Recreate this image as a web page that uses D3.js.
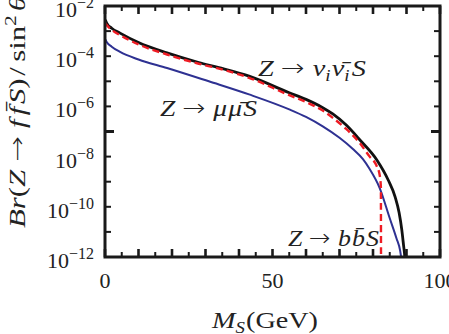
<!DOCTYPE html>
<html>
<head>
<meta charset="utf-8">
<script src="https://cdn.jsdelivr.net/npm/d3@7"></script>
<style>
  html, body { margin: 0; padding: 0; background: #ffffff; }
  svg { display: block; }
</style>
</head>
<body>
<div id="chart"></div>
<script>
// Z -> nu nubar S (black, solid)
const nuMass = [0.1, 0.5, 2, 4.5, 10, 18.5, 28, 34, 43, 55, 60, 65, 68, 72, 76.1, 81.2, 84.5, 86.6, 87.8, 88.6, 89.1, 89.5, 89.8];
const nuBr = [2.8e-3, 2.1e-3, 1.3e-3, 8.3e-4, 3.5e-4, 1.35e-4, 5.6e-5, 3.5e-5, 1.6e-5, 3.5e-6, 1.9e-6, 8.9e-7, 5.0e-7, 1.8e-7, 4.6e-8, 7.2e-9, 1.2e-9, 2.5e-10, 5.8e-11, 1.2e-11, 3.1e-12, 1.0e-12, 2.5e-13];

// Z -> b bbar S (red, dashed)
const bMass = [0.1, 0.5, 2, 4.5, 10, 18.5, 28, 34, 43, 55, 60, 65, 68, 72, 76, 79, 81, 82, 82.35, 82.4];
const bBr = [2.1e-3, 1.74e-3, 1.12e-3, 6.9e-4, 2.95e-4, 1.17e-4, 5.0e-5, 3.2e-5, 1.38e-5, 2.8e-6, 1.5e-6, 6.8e-7, 3.5e-7, 1.26e-7, 3.5e-8, 1.0e-8, 4.5e-9, 1.8e-9, 6.3e-10, 1e-13];

// Z -> mu mubar S (blue, solid)
const muMass = [0.1, 0.5, 2, 4.5, 10, 18.5, 31, 43, 55, 60, 65, 70, 74, 77, 79, 82, 85, 87, 88.1, 88.6];
const muBr = [4.7e-4, 3.7e-4, 2.4e-4, 1.48e-4, 7.4e-5, 3.4e-5, 1.0e-5, 3.0e-6, 7.6e-7, 3.8e-7, 1.6e-7, 5.6e-8, 2.0e-8, 7.9e-9, 3.2e-9, 5.6e-10, 3.5e-11, 5.6e-12, 1.8e-12, 6.3e-13];

// axis ticks
const xMajorTicks = [0, 10, 20, 30, 40, 50, 60, 70, 80, 90, 100];
const xMinorTicks = [5, 15, 25, 35, 45, 55, 65, 75, 85, 95];
const xTickLabels = [0, 50, 100];
const yDecades = [-3, -4, -5, -6, -7, -8, -9, -10, -11];
const yLabelExps = [-2, -4, -6, -8, -10, -12];

class BranchingPlot {
  constructor() {
    this.width = 449;
    this.height = 334;
    this.margin = { top: 6, right: 9, bottom: 77, left: 105 };
    this.font = "'Liberation Serif', 'DejaVu Serif', serif";
    this.arrowFont = "'DejaVu Sans', sans-serif";

    this.svg = d3
      .select("#chart")
      .append("svg")
      .attr("width", this.width)
      .attr("height", this.height);

    this.setupScales();
    this.drawCurves();
    this.drawFrame();
    this.drawTicks();
    this.drawLabels();
  }

  setupScales() {
    const m = this.margin;
    this.x0 = m.left;
    this.x1 = this.width - m.right;
    this.y0 = m.top;
    this.y1 = this.height - m.bottom;

    this.x = d3.scaleLinear().domain([0, 100]).range([this.x0, this.x1]);
    this.y = d3.scaleLog().domain([1e-12, 1e-2]).range([this.y1, this.y0]);
  }

  drawCurves() {
    this.svg
      .append("clipPath")
      .attr("id", "plotClip")
      .append("rect")
      .attr("x", this.x0)
      .attr("y", this.y0)
      .attr("width", this.x1 - this.x0)
      .attr("height", this.y1 - this.y0);

    const line = d3
      .line()
      .x((d) => this.x(d[0]))
      .y((d) => this.y(d[1]))
      .curve(d3.curveMonotoneX);

    const series = [
      { mass: muMass, br: muBr, colour: "#2e3192", width: 2, dash: null },
      { mass: nuMass, br: nuBr, colour: "#111111", width: 2.8, dash: null },
      { mass: bMass, br: bBr, colour: "#ee1c24", width: 2.4, dash: "7,4" },
    ];

    const g = this.svg.append("g").attr("clip-path", "url(#plotClip)");

    series.forEach((s) => {
      const pts = s.mass.map((m, i) => [m, s.br[i]]);
      g.append("path")
        .datum(pts)
        .attr("fill", "none")
        .attr("stroke", s.colour)
        .attr("stroke-width", s.width)
        .attr("stroke-dasharray", s.dash)
        .attr("d", line);
    });
  }

  drawFrame() {
    this.svg
      .append("rect")
      .attr("x", this.x0)
      .attr("y", this.y0)
      .attr("width", this.x1 - this.x0)
      .attr("height", this.y1 - this.y0)
      .attr("fill", "none")
      .attr("stroke", "#1a1a1a")
      .attr("stroke-width", 3);
  }

  drawTicks() {
    const g = this.svg.append("g").attr("stroke", "#1a1a1a");

    // x ticks, inward on bottom and top
    const xTicks = [
      ...xMajorTicks.map((v) => ({ v, len: 8, w: 2.6 })),
      ...xMinorTicks.map((v) => ({ v, len: 5, w: 2 })),
    ];
    xTicks.forEach((t) => {
      const px = this.x(t.v);
      g.append("line")
        .attr("x1", px).attr("x2", px)
        .attr("y1", this.y1).attr("y2", this.y1 - t.len)
        .attr("stroke-width", t.w);
      g.append("line")
        .attr("x1", px).attr("x2", px)
        .attr("y1", this.y0).attr("y2", this.y0 + t.len)
        .attr("stroke-width", t.w);
    });

    // y ticks, one per decade
    yDecades.forEach((e) => {
      const py = this.y(Math.pow(10, e));
      const big = e === -7;
      const len = big ? 9 : 6;
      const w = big ? 3 : 2;
      g.append("line")
        .attr("x1", this.x0).attr("x2", this.x0 + len)
        .attr("y1", py).attr("y2", py)
        .attr("stroke-width", w);
      g.append("line")
        .attr("x1", this.x1).attr("x2", this.x1 - len)
        .attr("y1", py).attr("y2", py)
        .attr("stroke-width", w);
    });
  }

  // builds a math-ish label out of tspans, optionally stretched to a width
  mathText(parent, x, y, size, width, parts) {
    const t = parent
      .append("text")
      .attr("x", x)
      .attr("y", y)
      .attr("font-family", this.font)
      .attr("font-size", size + "px")
      .attr("fill", "#222");
    let shift = 0;
    parts.forEach((p) => {
      const s = t.append("tspan").text(p.text);
      if (p.italic) s.attr("font-style", "italic");
      if (p.arrow) s.attr("font-family", this.arrowFont).attr("font-weight", 200).attr("dx", 6);
      if (p.gap) s.attr("dx", p.gap);
      if (p.sub) {
        s.attr("font-size", Math.round(size * 0.68) + "px").attr("dy", 5 - shift);
        shift = 5;
      } else if (p.sup) {
        s.attr("font-size", Math.round(size * 0.68) + "px").attr("dy", -9 - shift);
        shift = -9;
      } else if (shift !== 0) {
        s.attr("dy", -shift);
        shift = 0;
      }
    });
    if (width) t.attr("textLength", width).attr("lengthAdjust", "spacingAndGlyphs");
    return t;
  }

  drawLabels() {
    const font = this.font;

    // y tick labels 10^n
    yLabelExps.forEach((e) => {
      const py = this.y(Math.pow(10, e));
      const t = this.svg
        .append("text")
        .attr("x", this.x0 - 11)
        .attr("y", py + 11)
        .attr("text-anchor", "end")
        .attr("font-family", font)
        .attr("font-size", "22px")
        .attr("fill", "#222");
      t.append("tspan").text("10");
      t.append("tspan")
        .attr("dy", "-9")
        .attr("font-size", "16px")
        .text("\u2212" + Math.abs(e));
    });

    // x tick labels
    this.svg
      .selectAll(".xlab")
      .data(xTickLabels)
      .enter()
      .append("text")
      .attr("class", "xlab")
      .attr("x", (d) => this.x(d))
      .attr("y", 288)
      .attr("text-anchor", "middle")
      .attr("font-family", font)
      .attr("font-size", "22px")
      .attr("fill", "#222")
      .text((d) => d);

    // x axis title
    this.mathText(this.svg, 212, 328, 24, 106, [
      { text: "M", italic: true },
      { text: "S", italic: true, sub: true },
      { text: "(GeV)", gap: 1 },
    ]);

    // y axis title, rotated
    const yg = this.svg.append("g").attr("transform", "translate(25,228) rotate(-90)");
    this.mathText(yg, 0, 0, 23, 232, [
      { text: "Br", italic: true },
      { text: "(" },
      { text: "Z", italic: true },
      { text: "\u2192", arrow: true },
      { text: "f", italic: true, gap: 6 },
      { text: "f\u0304", italic: true, gap: 3 },
      { text: "S", italic: true, gap: 2 },
      { text: ")" },
      { text: "/", gap: 2 },
      { text: "sin", gap: 4 },
      { text: "2", sup: true },
      { text: "\u03b8", italic: true, gap: 3 },
    ]);

    // curve annotations
    this.mathText(this.svg, 258, 76, 24, 108, [
      { text: "Z", italic: true },
      { text: "\u2192", arrow: true },
      { text: "\u03bd", italic: true, gap: 7 },
      { text: "i", italic: true, sub: true },
      { text: "\u03bd\u0304", italic: true, gap: 1 },
      { text: "i", italic: true, sub: true },
      { text: "S", italic: true, gap: 2 },
    ]);

    this.mathText(this.svg, 160, 116, 24, 97, [
      { text: "Z", italic: true },
      { text: "\u2192", arrow: true },
      { text: "\u03bc", italic: true, gap: 7 },
      { text: "\u03bc\u0304", italic: true, gap: 1 },
      { text: "S", italic: true, gap: 1 },
    ]);

    this.mathText(this.svg, 288, 246, 24, 91, [
      { text: "Z", italic: true },
      { text: "\u2192", arrow: true },
      { text: "b", italic: true, gap: 7 },
      { text: "b\u0304", italic: true, gap: 1 },
      { text: "S", italic: true, gap: 1 },
    ]);
  }
}

document.addEventListener("DOMContentLoaded", () => {
  new BranchingPlot();
});
</script>
</body>
</html>
